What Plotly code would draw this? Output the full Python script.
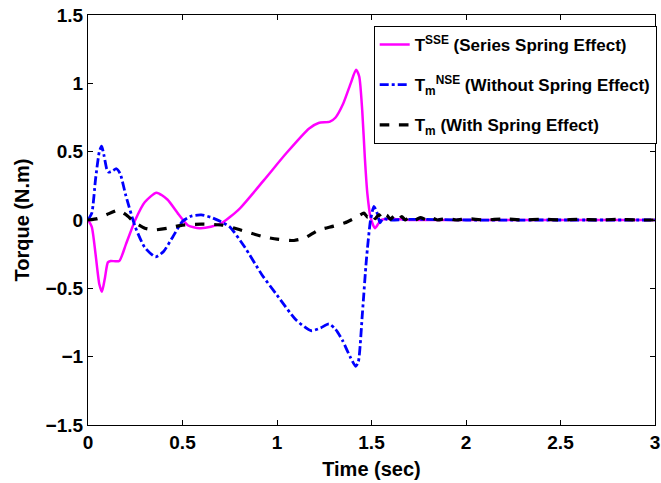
import plotly.graph_objects as go

# ---- data ----
t_sse = [0, 0.02, 0.04, 0.06, 0.074, 0.09, 0.105, 0.12, 0.165, 0.2, 0.25, 0.3, 0.362, 0.42, 0.48,
         0.53, 0.59, 0.65, 0.71, 0.8, 0.93, 1.05, 1.17, 1.22, 1.28, 1.31, 1.35, 1.39, 1.418, 1.435,
         1.451, 1.465, 1.478, 1.495, 1.518, 1.535, 1.55, 1.6, 1.7, 2.0, 2.5, 3.0]
v_sse = [0, -0.05, -0.25, -0.47, -0.525, -0.42, -0.31, -0.30, -0.30, -0.18, 0.0, 0.13, 0.20, 0.15, 0.04,
         -0.04, -0.06, -0.05, -0.02, 0.08, 0.29, 0.49, 0.67, 0.71, 0.72, 0.75, 0.85, 1.0, 1.10, 1.05,
         0.80, 0.45, 0.195, 0.02, -0.06, -0.03, 0.0, 0.01, 0.0, 0.0, 0.0, 0.0]

t_nse = [0, 0.02, 0.04, 0.06, 0.072, 0.085, 0.1, 0.11, 0.13, 0.15, 0.17, 0.2, 0.25, 0.3, 0.357, 0.4,
         0.45, 0.5, 0.55, 0.6, 0.65, 0.7, 0.75, 0.83, 0.92, 1.0, 1.1, 1.18, 1.23, 1.275, 1.31, 1.346,
         1.39, 1.416, 1.43, 1.452, 1.473, 1.495, 1.513, 1.53, 1.545, 1.56, 1.6, 1.7, 2.0, 2.5, 3.0]
v_nse = [0, 0.05, 0.3, 0.5, 0.54, 0.47, 0.37, 0.35, 0.36, 0.375, 0.34, 0.18, -0.05, -0.2, -0.27, -0.23,
         -0.12, -0.01, 0.03, 0.037, 0.02, -0.01, -0.05, -0.2, -0.40, -0.55, -0.73, -0.81, -0.79, -0.76, -0.8, -0.88,
         -1.01, -1.07, -1.04, -0.68, -0.29, 0.0, 0.10, 0.05, -0.02, 0.01, 0.0, 0.005, 0.0, 0.0, 0.0]

t_m = [0, 0.05, 0.1, 0.16, 0.2, 0.25, 0.3, 0.35, 0.42, 0.5, 0.6, 0.71, 0.8, 0.92, 1.0, 1.09, 1.15,
       1.22, 1.3, 1.36, 1.42, 1.46, 1.48, 1.50, 1.52, 1.54, 1.56, 1.58, 1.60, 1.62, 1.64, 1.66, 1.68,
       1.70, 1.73, 1.76, 1.79, 1.82, 1.85, 1.90, 1.95, 2.0, 2.1, 2.2, 2.3, 2.4, 2.5, 2.6, 2.7, 2.8, 2.9, 3.0]
v_m = [0, 0.01, 0.04, 0.073, 0.04, -0.02, -0.06, -0.073, -0.06, -0.037, -0.03, -0.037, -0.07, -0.12, -0.14, -0.15, -0.13,
       -0.073, -0.045, -0.02, 0.02, 0.05, 0.02, 0.045, 0.01, 0.04, 0.005, 0.035, 0.005, 0.03, 0.0, 0.025, 0.0,
       0.02, 0.0, 0.018, 0.0, 0.015, 0.0, 0.012, 0.0, 0.01, 0.0, 0.008, 0.0, 0.006, 0.0, 0.005, 0.0, 0.004, 0.0, 0.0]

x_ticks = [0, 0.5, 1, 1.5, 2, 2.5, 3]
y_ticks = [-1.5, -1, -0.5, 0, 0.5, 1, 1.5]
y_tick_text = ["\u22121.5", "\u22121", "\u22120.5", "0", "0.5", "1", "1.5"]

names = ["T<sup>SSE</sup> (Series Spring Effect)",
         "T<sub>m</sub><sup>NSE</sup> (Without Spring Effect)",
         "T<sub>m</sub> (With Spring Effect)"]

FONT = "Liberation Sans, Arial, Helvetica, sans-serif"

fig = go.Figure()
fig.add_trace(go.Scatter(x=t_sse, y=v_sse, mode="lines", name=names[0], legendgroup="a",
                         line=dict(color="#ff00ff", width=2.5, shape="spline", smoothing=0.6)))
fig.add_trace(go.Scatter(x=t_nse, y=v_nse, mode="lines", name=names[1], legendgroup="b",
                         line=dict(color="#0000ff", width=2.8, dash="dashdot", shape="spline", smoothing=0.6)))
fig.add_trace(go.Scatter(x=t_m, y=v_m, mode="lines", name=names[2], legendgroup="c",
                         line=dict(color="#000000", width=3.2, dash="dash", shape="spline", smoothing=0.5)))

axis_common = dict(showgrid=False, zeroline=False, showline=True, linecolor="black", linewidth=1.2,
                   mirror="ticks", ticks="inside", ticklen=5, tickcolor="black", automargin=False,
                   tickfont=dict(family=FONT, size=19, color="black", weight="bold"))

fig.update_xaxes(range=[0, 3], tickvals=x_ticks, ticktext=[str(v) for v in x_ticks],
                 title=dict(text="Time (sec)", font=dict(family=FONT, size=20, color="black", weight="bold"),
                            standoff=10),
                 **axis_common)
fig.update_yaxes(range=[-1.5, 1.5], tickvals=y_ticks, ticktext=y_tick_text,
                 title=dict(text="Torque (N.m)", font=dict(family=FONT, size=20, color="black", weight="bold"),
                            standoff=10),
                 **axis_common)

fig.update_layout(
    width=661, height=483,
    margin=dict(l=88, r=4, t=15, b=58),
    paper_bgcolor="white", plot_bgcolor="white",
    legend=dict(x=1.003, y=0.973, xanchor="right", yanchor="top",
                bgcolor="white", bordercolor="black", borderwidth=1,
                font=dict(family=FONT, size=17, color="black", weight="bold"),
                tracegroupgap=15),
)

fig.write_html("out.html", config={"displayModeBar": False},
               post_script="document.body.style.margin='0';document.body.style.overflow='hidden';")
